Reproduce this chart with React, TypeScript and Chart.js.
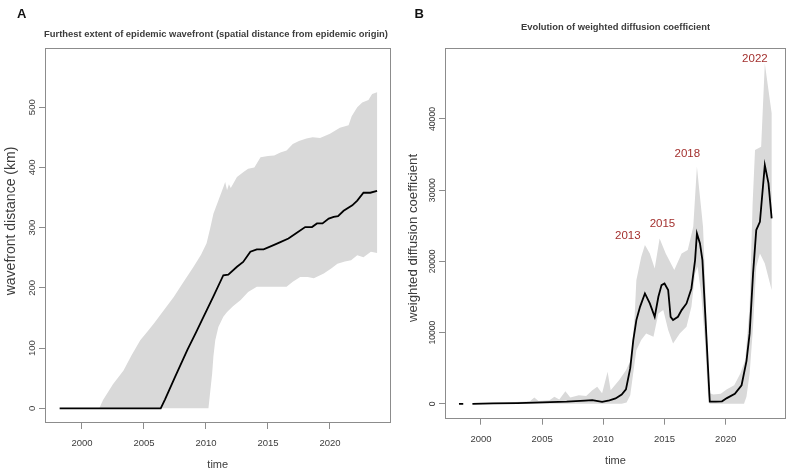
import { useEffect, useRef } from 'react';
import { Chart, registerables } from 'chart.js';

Chart.register(...registerables);

const FONT = '"Liberation Sans", Arial, Helvetica, sans-serif';
const TEXT = '#3c3c3c';
const AXIS = '#8c8c8c';
const BAND = '#d9d9d9';

// ---- Axis ticks ----
const yearTicks = [2000, 2005, 2010, 2015, 2020];
const distanceTicks = [0, 100, 200, 300, 400, 500];
const diffusionTicks = [0, 10000, 20000, 30000, 40000];

// ---- Panel A: furthest extent of the wavefront (km) ----
const wavefrontYears = [1998.2, 2006.35, 2006.7, 2007.5, 2008.5, 2009.2, 2009.8, 2010.6, 2011.4, 2011.8, 2012.5, 2013.0, 2013.58, 2014.1, 2014.65, 2015.45, 2016.0, 2016.65, 2017.3, 2018.0, 2018.55, 2018.95, 2019.4, 2019.9, 2020.3, 2020.65, 2021.1, 2021.8, 2022.2, 2022.7, 2023.25, 2023.8];
const wavefrontMedian = [0, 0, 15, 52, 97, 126, 152, 186, 221, 222, 235, 243, 260, 264, 264, 271, 276, 282, 291, 301, 301, 307, 307, 315, 318, 319, 328, 337, 345, 358, 358, 361];

const wavefrontUpperYears = [1998.2, 2001.4, 2001.7, 2002.5, 2003.35, 2004.0, 2004.7, 2005.3, 2005.8, 2006.6, 2007.4, 2008.2, 2009.0, 2009.6, 2010.05, 2010.35, 2010.6, 2011.0, 2011.4, 2011.55, 2011.7, 2011.85, 2012.0, 2012.5, 2013.0, 2013.4, 2013.9, 2014.4, 2015.0, 2015.5, 2016.0, 2016.5, 2017.0, 2017.5, 2018.1, 2018.6, 2019.2, 2020.0, 2020.8, 2021.5, 2021.75, 2022.2, 2022.6, 2023.1, 2023.4, 2023.8];
const wavefrontUpper = [0, 0, 14, 40, 63, 88, 113, 128, 141, 163, 185, 210, 235, 255, 274, 300, 323, 345, 367, 376, 362, 372, 366, 384, 392, 398, 400, 417, 419, 420, 425, 428, 439, 444, 448, 450, 449, 456, 466, 470, 485, 500, 508, 512, 522, 525];

const wavefrontLowerYears = [1998.2, 2010.2, 2010.5, 2010.6, 2010.75, 2011.0, 2011.4, 2011.7, 2012.2, 2012.8, 2013.4, 2014.1, 2014.8, 2015.5, 2016.5, 2017.0, 2017.6, 2018.2, 2018.7, 2019.5, 2020.1, 2020.6, 2021.2, 2021.7, 2022.2, 2022.7, 2023.3, 2023.8];
const wavefrontLower = [0, 0, 58, 86, 113, 135, 152, 160, 170, 180, 193, 202, 202, 202, 202, 210, 218, 218, 216, 224, 232, 240, 244, 246, 254, 251, 260, 258];

// ---- Panel B: weighted diffusion coefficient ----
const diffusionYears = [1998.2, 1998.55, 1998.9, 1999.3, 2001.0, 2003.0, 2005.0, 2007.0, 2008.5, 2009.1, 2009.9, 2010.5, 2011.0, 2011.5, 2011.85, 2012.2, 2012.45, 2012.7, 2013.0, 2013.4, 2013.8, 2014.2, 2014.5, 2014.76, 2015.0, 2015.3, 2015.5, 2015.7, 2016.1, 2016.4, 2016.8, 2017.2, 2017.5, 2017.65, 2017.9, 2018.1, 2018.3, 2018.58, 2018.7, 2019.2, 2019.7, 2020.1, 2020.75, 2021.3, 2021.7, 2021.96, 2022.24, 2022.5, 2022.8, 2023.2, 2023.5, 2023.76];
const diffusionMedian = [0, 0, null, 0, 50, 100, 200, 300, 450, 520, 280, 480, 760, 1300, 2020, 5000, 8950, 11760, 13620, 15500, 14100, 12220, 15030, 16670, 16900, 15970, 12220, 11760, 12220, 13160, 14100, 16200, 20180, 23930, 22530, 20180, 13620, 4270, 300, 300, 350, 800, 1400, 2600, 6000, 9890, 18300, 24400, 25560, 33530, 30960, 26040];

const diffusionUpperYears = [1999.3, 2002.0, 2004.0, 2004.36, 2004.7, 2005.6, 2006.0, 2006.4, 2006.9, 2007.3, 2008.0, 2008.6, 2009.1, 2009.5, 2009.9, 2010.35, 2010.6, 2011.3, 2011.85, 2012.25, 2012.55, 2012.7, 2013.1, 2013.4, 2013.8, 2014.2, 2014.6, 2015.1, 2015.8, 2016.4, 2016.9, 2017.35, 2017.65, 2017.9, 2018.15, 2018.3, 2018.58, 2018.7, 2019.0, 2019.6, 2020.07, 2020.7, 2021.2, 2021.6, 2021.96, 2022.2, 2022.4, 2022.9, 2023.2, 2023.76];
const diffusionUpper = [100, 200, 350, 900, 400, 500, 980, 600, 1780, 900, 1220, 1100, 1920, 2390, 1500, 4490, 1920, 3330, 4730, 6140, 12000, 17370, 20650, 22290, 21120, 19020, 23230, 21120, 18780, 21120, 21590, 24860, 33290, 29070, 24860, 18310, 4730, 1500, 1300, 1400, 2000, 2600, 4270, 6140, 13620, 28000, 35630, 36100, 47800, 40800];

const diffusionLowerYears = [1999.3, 2011.5, 2011.9, 2012.2, 2012.44, 2012.7, 2013.1, 2013.5, 2014.1, 2014.5, 2014.9, 2015.3, 2015.7, 2016.25, 2016.8, 2017.2, 2017.5, 2017.7, 2018.0, 2018.3, 2018.55, 2018.7, 2021.5, 2021.7, 2021.96, 2022.24, 2022.5, 2022.8, 2023.2, 2023.76];
const diffusionLower = [0, 0, 200, 1200, 4270, 7540, 8950, 9890, 9410, 12700, 13160, 10350, 8480, 9890, 10810, 13620, 18310, 19240, 15500, 8950, 1500, 0, 0, 1000, 4270, 10810, 19240, 21120, 19720, 15970];

// Epidemic-wave labels placed in data coordinates
const peakLabels = ['2013', '2015', '2018', '2022'];
const peakLabelYears = [2012.0, 2014.83, 2016.87, 2022.39];
const peakLabelValues = [23600, 25340, 35070, 48410];

type Pt = { x: number; y: number | null };

const toPoints = (xs: number[], ys: (number | null)[]): Pt[] => xs.map((x, i) => ({ x, y: ys[i] }));

// Closed outline: upper edge left-to-right, then lower edge right-to-left
const bandOutline = (ux: number[], uy: number[], lx: number[], ly: number[]): Pt[] => [
  ...toPoints(ux, uy),
  ...toPoints(lx, ly).reverse(),
];

const fixedTicks = (values: number[]) => (scale: any) => {
  scale.ticks = values.map((value) => ({ value }));
};

// Plot box, panel letter, main title and the rotated y-axis label
const framePlugin = {
  id: 'frame',
  afterDraw(chart: any, _args: any, opts: any) {
    const { ctx, chartArea: a } = chart;
    ctx.save();
    ctx.strokeStyle = AXIS;
    ctx.lineWidth = 1;
    const l = Math.round(a.left) - 0.5;
    const t = Math.round(a.top) - 0.5;
    const r = Math.round(a.right) + 0.5;
    const b = Math.round(a.bottom) + 0.5;
    ctx.strokeRect(l, t, r - l, b - t);

    ctx.fillStyle = '#111';
    ctx.textBaseline = 'alphabetic';
    ctx.textAlign = 'left';
    ctx.font = `bold 13px ${FONT}`;
    ctx.fillText(opts.letter, opts.letterX, opts.letterY);

    ctx.fillStyle = TEXT;
    ctx.textAlign = 'center';
    ctx.font = `bold 9.4px ${FONT}`;
    ctx.fillText(opts.title, opts.titleX, opts.titleY);

    ctx.font = `${opts.yTitleSize}px ${FONT}`;
    ctx.textBaseline = 'middle';
    ctx.translate(opts.yTitleX, opts.yTitleY);
    ctx.rotate(-Math.PI / 2);
    ctx.fillText(opts.yTitle, 0, 0);
    ctx.restore();
  },
};

const peakLabelPlugin = {
  id: 'peakLabels',
  afterDraw(chart: any, _args: any, opts: any) {
    if (!opts || !opts.labels) return;
    const { ctx, scales } = chart;
    ctx.save();
    ctx.fillStyle = '#a3302e';
    ctx.font = `11.5px ${FONT}`;
    ctx.textAlign = 'center';
    ctx.textBaseline = 'middle';
    opts.labels.forEach((txt: string, i: number) => {
      ctx.fillText(txt, scales.x.getPixelForValue(opts.years[i]), scales.y.getPixelForValue(opts.values[i]));
    });
    ctx.restore();
  },
};

interface PanelSpec {
  line: Pt[];
  band: Pt[];
  xMin: number;
  xMax: number;
  yMin: number;
  yMax: number;
  yTicks: number[];
  yTickSize: number;
  yTickPad: number;
  yWidth: number;
  xHeight: number;
  xTitlePad: number;
  padRight: number;
  padTop: number;
  frame: any;
  peaks?: any;
}

function panelConfig(p: PanelSpec): any {
  return {
    type: 'line',
    data: {
      datasets: [
        {
          data: p.line,
          borderColor: '#000',
          borderWidth: 1.8,
          pointRadius: 0,
          tension: 0,
          fill: false,
          spanGaps: false,
          order: 0,
        },
        {
          data: p.band,
          borderWidth: 0,
          borderColor: 'rgba(0,0,0,0)',
          backgroundColor: BAND,
          pointRadius: 0,
          tension: 0,
          fill: 'shape',
          order: 1,
        },
      ],
    },
    options: {
      responsive: false,
      animation: false,
      events: [],
      layout: { padding: { left: 0, top: p.padTop, right: p.padRight, bottom: 0 } },
      plugins: {
        legend: { display: false },
        tooltip: { enabled: false },
        title: { display: false },
        frame: p.frame,
        peakLabels: p.peaks || {},
      },
      scales: {
        x: {
          type: 'linear',
          position: 'bottom',
          min: p.xMin,
          max: p.xMax,
          afterBuildTicks: fixedTicks(yearTicks),
          afterFit: (s: any) => {
            s.height = p.xHeight;
          },
          border: { display: false },
          grid: { drawOnChartArea: false, drawTicks: true, tickLength: 7, color: AXIS, lineWidth: 1 },
          ticks: {
            minRotation: 0,
            maxRotation: 0,
            autoSkip: false,
            padding: 9,
            color: TEXT,
            font: { family: FONT, size: 9.5 },
            callback: (v: number) => String(v),
          },
          title: {
            display: true,
            text: 'time',
            color: TEXT,
            font: { family: FONT, size: 11 },
            padding: { top: 0, bottom: p.xTitlePad },
          },
        },
        y: {
          type: 'linear',
          position: 'left',
          min: p.yMin,
          max: p.yMax,
          afterBuildTicks: fixedTicks(p.yTicks),
          afterFit: (s: any) => {
            s.width = p.yWidth;
          },
          border: { display: false },
          grid: { drawOnChartArea: false, drawTicks: true, tickLength: 7, color: AXIS, lineWidth: 1 },
          ticks: {
            minRotation: 90,
            maxRotation: 90,
            crossAlign: 'center',
            autoSkip: false,
            padding: p.yTickPad,
            color: TEXT,
            font: { family: FONT, size: p.yTickSize },
            callback: (v: number) => String(v),
          },
          title: { display: false },
        },
      },
    },
    plugins: [framePlugin, peakLabelPlugin],
  };
}

export default function App() {
  const refA = useRef<HTMLCanvasElement>(null);
  const refB = useRef<HTMLCanvasElement>(null);

  useEffect(() => {
    const chartA = new Chart(
      refA.current as HTMLCanvasElement,
      panelConfig({
        line: toPoints(wavefrontYears, wavefrontMedian),
        band: bandOutline(wavefrontUpperYears, wavefrontUpper, wavefrontLowerYears, wavefrontLower),
        xMin: 1997.1,
        xMax: 2024.8,
        yMin: -22.7,
        yMax: 597.5,
        yTicks: distanceTicks,
        yTickSize: 9.5,
        yTickPad: -1,
        yWidth: 46,
        xHeight: 50,
        xTitlePad: 0,
        padRight: 4.5,
        padTop: 48.5,
        frame: {
          letter: 'A',
          letterX: 17,
          letterY: 17.5,
          title: 'Furthest extent of epidemic wavefront (spatial distance from epidemic origin)',
          titleX: 216,
          titleY: 36.5,
          yTitle: 'wavefront distance (km)',
          yTitleSize: 14,
          yTitleX: 11.5,
          yTitleY: 221,
        },
      })
    );

    const chartB = new Chart(
      refB.current as HTMLCanvasElement,
      panelConfig({
        line: toPoints(diffusionYears, diffusionMedian),
        band: bandOutline(diffusionUpperYears, diffusionUpper, diffusionLowerYears, diffusionLower),
        xMin: 1997.14,
        xMax: 2024.85,
        yMin: -1950,
        yMax: 49900,
        yTicks: diffusionTicks,
        yTickSize: 8.6,
        yTickPad: -6,
        yWidth: 52,
        xHeight: 54.3,
        xTitlePad: 4,
        padRight: 3,
        padTop: 48.5,
        frame: {
          letter: 'B',
          letterX: 20.5,
          letterY: 18,
          title: 'Evolution of weighted diffusion coefficient',
          titleX: 221.5,
          titleY: 30,
          yTitle: 'weighted diffusion coefficient',
          yTitleSize: 13.2,
          yTitleX: 19,
          yTitleY: 238,
        },
        peaks: { labels: peakLabels, years: peakLabelYears, values: peakLabelValues },
      })
    );

    return () => {
      chartA.destroy();
      chartB.destroy();
    };
  }, []);

  return (
    <div
      style={{
        position: 'absolute',
        left: 0,
        top: 0,
        width: 788,
        height: 472,
        background: '#fff',
        display: 'flex',
      }}
    >
      <canvas ref={refA} width={394} height={472} style={{ display: 'block', width: 394, height: 472 }} />
      <canvas ref={refB} width={394} height={472} style={{ display: 'block', width: 394, height: 472 }} />
    </div>
  );
}
